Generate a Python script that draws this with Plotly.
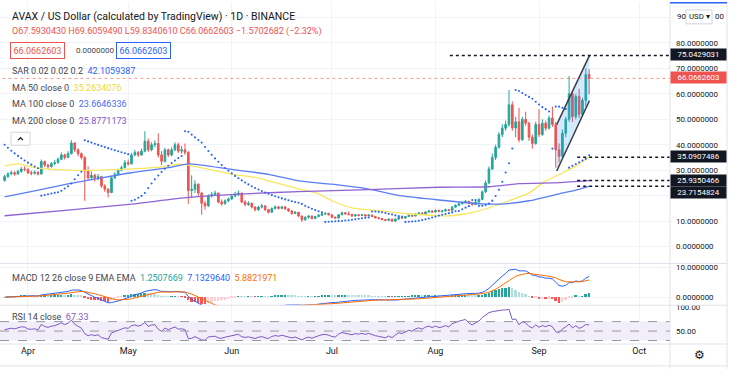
import numpy as np
import pandas as pd
import plotly.graph_objects as go

FONT = "Roboto, Liberation Sans, sans-serif"
W, H = 734, 369
PLOT_R = 670          # right edge of the plot area (px)
MB = 25               # bottom margin (time axis)
PH = H - MB           # plot height in px

# ---------------- data ----------------
start_date = "2021-03-25"
first_open = 26.0
close = [27.5, 28.6, 29.0, 28.5, 29.5, 30.5, 30.3,
         29.0, 28.8, 29.2, 28.5, 33.4, 32.0, 31.4, 32.6, 33.0, 34.3,
         36.0, 35.0, 36.5, 40.7, 38.0, 36.5, 35.0, 29.7, 27.0, 28.0,
         26.8, 27.5, 23.8, 22.5, 21.2, 27.0, 28.4, 30.0, 31.0, 33.0,
         32.5, 36.0, 37.0, 36.0, 37.5, 41.4, 38.0, 40.0, 40.5, 36.0,
         33.5, 38.0, 36.0, 38.0, 40.0, 37.5, 38.0, 37.0, 22.0, 22.5,
         24.5, 21.0, 17.0, 16.0, 20.0, 20.5, 21.0, 17.5, 16.8, 18.0,
         18.7, 19.8, 20.5, 21.0, 17.5, 16.5, 17.0, 15.5, 14.5, 15.5,
         16.0, 14.5, 13.5, 15.0, 15.6, 15.0, 15.6, 14.8, 14.0, 13.0,
         13.5, 12.0, 10.5, 11.5, 12.0, 11.0, 11.8, 12.3, 12.8, 13.0,
         12.5, 11.5, 11.2, 12.5, 13.3, 12.8, 12.6, 12.0, 12.5, 12.2,
         12.5, 12.0, 12.4, 11.8, 11.3, 11.0, 10.6, 10.3, 10.8, 10.0,
         10.8, 11.5, 11.2, 11.8, 12.3, 12.0, 12.8, 13.2, 12.8, 13.6,
         14.0, 13.6, 14.2, 13.8, 14.0, 14.5, 14.2, 15.5, 16.2, 16.8,
         17.3, 17.8, 17.0, 16.5, 17.5, 18.5, 21.5, 25.0, 30.5, 35.0,
         39.0, 44.0, 46.5, 48.0, 55.7, 46.6, 49.0, 42.0, 50.0, 48.5,
         43.0, 40.5, 48.0, 44.0, 48.5, 46.5, 50.5, 48.0, 38.0, 35.5,
         44.5, 50.0, 60.0, 51.0, 59.0, 52.0, 57.5, 67.593043, 66.0662603]
high = [28.2, 29.2, 29.8, 29.6, 30.2, 31.3, 31.5,
        30.8, 29.8, 29.9, 29.6, 34.2, 33.8, 32.5, 33.2, 34.0, 35.0,
        37.0, 36.5, 37.5, 41.8, 41.0, 38.6, 37.0, 35.5, 31.5, 29.5,
        28.6, 28.5, 27.8, 24.5, 23.0, 27.8, 29.2, 30.6, 31.8, 34.0,
        34.2, 36.8, 38.0, 37.6, 38.5, 45.3, 42.5, 41.0, 41.8, 44.5,
        37.5, 38.8, 38.5, 39.0, 41.0, 40.8, 39.5, 40.5, 37.5, 28.0,
        26.0, 24.8, 21.5, 18.0, 20.5, 21.5, 22.0, 21.2, 18.5, 18.6,
        19.2, 20.5, 21.5, 22.0, 21.2, 18.2, 17.8, 17.2, 15.9, 16.0,
        16.8, 16.2, 14.8, 15.4, 16.2, 16.0, 16.0, 15.8, 15.0, 14.2,
        13.9, 13.6, 12.2, 11.9, 12.4, 12.2, 12.1, 12.8, 13.2, 13.6,
        13.3, 12.6, 11.8, 12.8, 13.7, 13.6, 13.8, 12.9, 12.8, 12.7,
        12.8, 12.6, 12.7, 12.5, 12.0, 11.5, 11.2, 10.8, 11.0, 10.9,
        11.0, 11.8, 11.7, 12.0, 12.6, 12.5, 13.1, 13.6, 13.4, 13.9,
        14.4, 14.2, 14.6, 14.5, 14.4, 14.9, 14.8, 15.9, 16.6, 17.3,
        17.8, 18.3, 18.0, 17.4, 17.9, 19.0, 22.0, 26.0, 31.5, 36.5,
        40.0, 45.0, 48.0, 49.5, 61.5, 57.0, 51.0, 54.5, 51.0, 53.0,
        49.0, 44.0, 49.0, 54.0, 50.0, 49.5, 51.5, 55.0, 49.0, 40.5,
        46.0, 51.0, 67.0, 61.0, 60.0, 62.0, 58.5, 70.0, 69.605949]
low = [25.5, 27.0, 28.0, 27.8, 28.2, 29.0, 29.6,
       28.5, 28.0, 28.3, 27.9, 28.2, 31.2, 30.5, 31.0, 32.0, 32.6,
       34.0, 34.2, 34.8, 36.2, 37.2, 35.5, 34.2, 18.0, 25.8, 26.0,
       25.5, 26.0, 23.0, 21.5, 19.3, 21.0, 26.5, 28.0, 29.6, 30.8,
       31.8, 32.2, 35.5, 35.2, 35.6, 37.0, 37.2, 37.5, 39.0, 35.0,
       32.0, 33.0, 35.2, 35.5, 37.5, 36.8, 36.5, 36.0, 16.8, 19.0,
       21.0, 20.0, 12.5, 14.5, 15.5, 19.2, 20.0, 17.0, 16.0, 16.5,
       17.5, 18.3, 19.5, 19.8, 17.0, 15.8, 16.0, 15.0, 13.8, 14.0,
       15.0, 14.0, 13.0, 13.2, 14.6, 14.6, 14.7, 14.4, 13.6, 12.5,
       12.8, 11.6, 9.7, 10.2, 11.0, 10.7, 10.8, 11.5, 12.0, 12.4,
       12.2, 11.2, 10.9, 11.0, 12.3, 12.5, 12.2, 11.7, 11.8, 11.9,
       12.0, 11.8, 11.9, 11.5, 11.0, 10.7, 10.3, 10.0, 10.1, 9.7,
       9.8, 10.6, 10.9, 11.0, 11.6, 11.7, 11.9, 12.5, 12.4, 12.6,
       13.3, 13.2, 13.4, 13.5, 13.3, 13.8, 13.9, 14.0, 15.2, 15.9,
       16.5, 17.0, 16.6, 16.0, 16.3, 17.2, 18.2, 21.0, 24.5, 30.0,
       34.0, 38.5, 43.0, 45.5, 47.0, 45.5, 43.0, 41.0, 41.5, 47.5,
       41.5, 38.5, 40.0, 43.0, 43.5, 45.5, 46.0, 47.0, 31.0, 33.0,
       35.0, 43.0, 49.0, 49.0, 50.0, 50.5, 51.0, 55.0, 59.834061]

ma50_dates = ["2021-03-25", "2021-03-29", "2021-04-03", "2021-04-13", "2021-04-23", "2021-05-02",
              "2021-05-11", "2021-05-16", "2021-05-19", "2021-06-01", "2021-06-09", "2021-06-12",
              "2021-06-21", "2021-06-27", "2021-07-01", "2021-07-07", "2021-07-15", "2021-07-24",
              "2021-08-02", "2021-08-06", "2021-08-14", "2021-08-23", "2021-08-29", "2021-09-03",
              "2021-09-08", "2021-09-12", "2021-09-16"]
ma50_vals = [31.6, 32.5, 31.0, 30.0, 30.0, 30.5, 31.3, 32.4, 32.0, 28.5, 27.0, 25.8, 22.7, 20.7,
             18.0, 15.2, 14.1, 12.9, 12.1, 12.1, 14.0, 18.0, 21.1, 25.8, 28.9, 31.6, 35.2634076]
ma100_dates = ["2021-03-25", "2021-04-03", "2021-04-13", "2021-04-23", "2021-05-02", "2021-05-13",
               "2021-05-19", "2021-06-01", "2021-06-12", "2021-06-21", "2021-07-01", "2021-07-12",
               "2021-07-22", "2021-08-02", "2021-08-15", "2021-08-22", "2021-08-29", "2021-09-07",
               "2021-09-12", "2021-09-16"]
ma100_vals = [19.5, 21.9, 24.6, 27.0, 29.0, 31.0, 32.5, 30.3, 28.4, 25.8, 24.5, 22.6, 19.9, 18.3,
              16.8, 16.8, 18.0, 20.7, 22.2, 23.6646336]
ma200_dates = ["2021-03-25", "2021-04-13", "2021-05-02", "2021-05-19", "2021-06-03", "2021-06-21",
               "2021-07-12", "2021-08-02", "2021-08-17", "2021-08-26", "2021-09-07", "2021-09-16"]
ma200_vals = [12.1, 14.3, 16.7, 19.3, 20.6, 21.6, 22.4, 23.3, 23.5, 24.7, 25.1, 25.8771173]

# parabolic SAR settings + state carried in from before the window
sar_af0, sar_step, sar_max = 0.02, 0.02, 0.2
sar_start, sar_ep_start, sar_af_start = 40.0, 20.0, 0.06
rsi_seed_gain, rsi_seed_loss = 0.9, 0.8

# drawings
level_vals = [75.0429031, 35.0907486, 25.9350466, 23.7154824]
level_from = ["2021-08-05 07:00", "2021-09-12 10:00", "2021-09-12 10:00", "2021-09-12 10:00"]
chan_x = ["2021-09-06 07:00", "2021-09-16 02:00"]
chan_upper = [47.9, 75.0429031]
chan_lower = [29.7, 57.3]

# ---------------- derived series ----------------
dates = pd.date_range(start_date, periods=len(close), freq="D")
opens = [first_open] + close[:-1]
cl = pd.Series(close)

ema12 = cl.ewm(span=12, adjust=False).mean()
ema26 = cl.ewm(span=26, adjust=False).mean()
macd = ema12 - ema26
signal = macd.ewm(span=9, adjust=False).mean()
hist = macd - signal
hcol = []
for i, h in enumerate(hist):
    prev = hist.iloc[i - 1] if i > 0 else 0
    if h >= 0:
        hcol.append("#26a69a" if h >= prev else "#b2dfdb")
    else:
        hcol.append("#ff5252" if h <= prev else "#ffcdd2")

ag, al = rsi_seed_gain, rsi_seed_loss
rsi = [100 - 100 / (1 + ag / al)]
for i in range(1, len(close)):
    d = close[i] - close[i - 1]
    ag = (ag * 13 + max(d, 0)) / 14
    al = (al * 13 + max(-d, 0)) / 14
    rsi.append(100 - 100 / (1 + ag / al))

def psar(hi, lo):
    n = len(hi)
    up = False
    s, ep, af = sar_start, sar_ep_start, sar_af_start
    out = [s]
    for i in range(1, n):
        s = s + af * (ep - s)
        if up:
            s = min(s, lo[i - 1], lo[max(i - 2, 0)])
            if lo[i] < s:
                up, s, ep, af = False, ep, lo[i], sar_af0
            elif hi[i] > ep:
                ep, af = hi[i], min(af + sar_step, sar_max)
        else:
            s = max(s, hi[i - 1], hi[max(i - 2, 0)])
            if hi[i] > s:
                up, s, ep, af = True, ep, hi[i], sar_af0
            elif lo[i] < ep:
                ep, af = lo[i], min(af + sar_step, sar_max)
        out.append(s)
    return out

sar = psar(high, low)

# ---------------- figure ----------------
fig = go.Figure()
fig.add_trace(go.Candlestick(x=dates, open=opens, high=high, low=low, close=close,
                             increasing=dict(line=dict(color="#26a69a", width=1), fillcolor="#26a69a"),
                             decreasing=dict(line=dict(color="#ef5350", width=1), fillcolor="#ef5350"),
                             whiskerwidth=0, xaxis="x", yaxis="y", showlegend=False, hoverinfo="skip"))
# channel
fig.add_trace(go.Scatter(x=[chan_x[0], chan_x[1], chan_x[1], chan_x[0], chan_x[0]],
                         y=[chan_upper[0], chan_upper[1], chan_lower[1], chan_lower[0], chan_upper[0]],
                         fill="toself", fillcolor="rgba(33,150,243,0.2)", mode="none",
                         xaxis="x", yaxis="y", showlegend=False))
for yy in (chan_upper, chan_lower):
    fig.add_trace(go.Scatter(x=chan_x, y=yy, mode="lines", line=dict(color="#3a3d48", width=1.5),
                             xaxis="x", yaxis="y", showlegend=False))
# MAs
for xs, ys, col in ((ma50_dates, ma50_vals, "#f7e760"), (ma100_dates, ma100_vals, "#5b7ef5"),
                    (ma200_dates, ma200_vals, "#8f63d2")):
    fig.add_trace(go.Scatter(x=xs, y=ys, mode="lines", line=dict(color=col, width=1.3, shape="spline", smoothing=0.6),
                             xaxis="x", yaxis="y", showlegend=False))
# SAR
fig.add_trace(go.Scatter(x=dates, y=sar, mode="markers", marker=dict(color="#2962ff", size=2.1),
                         xaxis="x", yaxis="y", showlegend=False))
# level lines
for v, f in zip(level_vals, level_from):
    fig.add_trace(go.Scatter(x=[f, "2021-10-12"], y=[v, v], mode="lines",
                             line=dict(color="#131722", width=1.5, dash="dot"),
                             xaxis="x", yaxis="y", showlegend=False))
# current price line
fig.add_trace(go.Scatter(x=["2021-03-01", "2021-10-12"], y=[close[-1], close[-1]], mode="lines",
                         line=dict(color="rgba(239,83,80,0.6)", width=1, dash="dot"),
                         xaxis="x", yaxis="y", showlegend=False))

# MACD
fig.add_trace(go.Bar(x=dates, y=hist, marker=dict(color=hcol, line=dict(width=0)),
                     width=0.55 * 86400000, xaxis="x2", yaxis="y2", showlegend=False))
fig.add_trace(go.Scatter(x=dates, y=macd, mode="lines", line=dict(color="#2962ff", width=1),
                         xaxis="x2", yaxis="y2", showlegend=False))
fig.add_trace(go.Scatter(x=dates, y=signal, mode="lines", line=dict(color="#ff6d00", width=1),
                         xaxis="x2", yaxis="y2", showlegend=False))
# RSI
fig.add_trace(go.Scatter(x=dates, y=rsi, mode="lines", line=dict(color="#7e57c2", width=1),
                         xaxis="x3", yaxis="y3", showlegend=False))

def py(y):
    return (PH - y) / PH

def px(x):
    return x / PLOT_R

xrange = ["2021-03-23 15:00", "2021-10-10 05:00"]
grid = "#f0f3fa"
xcommon = dict(type="date", range=xrange, dtick="M1", tick0="2021-04-01", showgrid=True,
               gridcolor=grid, zeroline=False, showline=False, ticks="", domain=[0, 1])
main_dom = [py(263), 1]
macd_dom = [py(305), py(263)]
rsi_dom = [0, py(305)]
AX_FS = 7.9
tickfont = dict(family=FONT, size=AX_FS, color="#131722")

fig.update_layout(
    width=W, height=H, margin=dict(l=0, r=W - PLOT_R, t=0, b=MB),
    paper_bgcolor="white", plot_bgcolor="white", bargap=0,
    xaxis=dict(**xcommon, anchor="y", showticklabels=False, rangeslider=dict(visible=False)),
    xaxis2=dict(**xcommon, anchor="y2", matches="x", showticklabels=False),
    xaxis3=dict(**xcommon, anchor="y3", matches="x", showticklabels=True, tickformat="%b",
                tickfont=dict(family=FONT, size=9, color="#131722")),
    yaxis=dict(domain=main_dom, side="right", anchor="x", range=[-6.64, 96.09],
               tickvals=[0, 10, 20, 30, 40, 50, 60, 70, 80, 90],
               ticktext=["0.0000000", "10.0000000", "", "30.0000000", "40.0000000", "50.0000000",
                         "60.0000000", "70.0000000", "80.0000000", ""],
               showgrid=True, gridcolor=grid, zeroline=False, ticks="", tickfont=tickfont,
               ticklabelstandoff=5),
    yaxis2=dict(domain=macd_dom, side="right", anchor="x2", range=[-2.67, 11.33],
                tickvals=[0, 10], ticktext=["0.0000000", "10.0000000"], showgrid=True, gridcolor=grid,
                zeroline=False, ticks="", tickfont=tickfont, ticklabelstandoff=5),
    yaxis3=dict(domain=rsi_dom, side="right", anchor="x3", range=[22.6, 104.7],
                tickvals=[50, 100], ticktext=["50.00", "100.00"], showgrid=False,
                zeroline=False, ticks="", tickfont=tickfont, ticklabelstandoff=5),
)

shapes = []
# RSI band
shapes.append(dict(type="rect", xref="x3 domain", yref="y3", x0=0, x1=1, y0=30, y1=70,
                   fillcolor="rgba(126,87,194,0.1)", line=dict(width=0), layer="below"))
for v in (70, 50, 30):
    shapes.append(dict(type="line", xref="x3 domain", yref="y3", x0=0, x1=1, y0=v, y1=v,
                       line=dict(color="#9598a1", width=1, dash="dash")))
sep = "#e0e3eb"
for yy in (263, 305, 344, 366):
    shapes.append(dict(type="line", xref="paper", yref="paper", x0=0, x1=px(727), y0=py(yy), y1=py(yy),
                       line=dict(color=sep, width=1)))
for xx in (670, 727):
    shapes.append(dict(type="line", xref="paper", yref="paper", x0=px(xx), x1=px(xx), y0=py(0), y1=py(369),
                       line=dict(color=sep, width=1)))
shapes.append(dict(type="line", xref="paper", yref="paper", x0=px(670), x1=px(727), y0=py(0.8), y1=py(0.8),
                   line=dict(color="#2962ff", width=1.6)))
# collapse button
shapes.append(dict(type="rect", xref="paper", yref="paper", x0=px(11), x1=px(30), y0=py(131), y1=py(144),
                   line=dict(color="#d1d4dc", width=1), fillcolor="white"))
shapes.append(dict(type="path", xref="paper", yref="paper",
                   path=f"M {px(18)} {py(139)} L {px(20.5)} {py(136.5)} L {px(23)} {py(139)}",
                   line=dict(color="#131722", width=1.2)))
# USD button
shapes.append(dict(type="rect", xref="paper", yref="paper", x0=px(686), x1=px(712), y0=py(8), y1=py(22),
                   line=dict(color="#d1d4dc", width=1), fillcolor="white"))
fig.update_layout(shapes=shapes)

anns = []
def ann(x, y, text, size=9, color="#131722", xanchor="left", **kw):
    anns.append(dict(xref="paper", yref="paper", x=px(x), y=py(y), text=text, showarrow=False,
                     xanchor=xanchor, yanchor="middle", font=dict(family=FONT, size=size, color=color), **kw))

ann(10, 15, "AVAX / US Dollar (calculated by TradingView) · 1D · BINANCE", size=10.5)
ann(10, 29.5, "O67.5930430 H69.6059490 L59.8340610 C66.0662603 −1.5702682 (−2.32%)", size=9, color="#ef5350")
ann(10, 48.5, "66.0662603", size=9, color="#ef5350", bordercolor="#ef5350", borderwidth=1, borderpad=2.5)
ann(74, 48.5, "0.0000000", size=8, color="#434651")
ann(116, 48.5, "66.0662603", size=9, color="#2962ff", bordercolor="#2962ff", borderwidth=1, borderpad=2.5)
ann(10, 69, "SAR 0.02 0.02 0.2&nbsp;&nbsp;<span style='color:#2962ff'>42.1059387</span>", size=9, color="#434651")
ann(10, 86, "MA 50 close 0&nbsp;&nbsp;<span style='color:#f0d93a'>35.2634076</span>", size=9, color="#434651")
ann(10, 103, "MA 100 close 0&nbsp;&nbsp;<span style='color:#4a6cf7'>23.6646336</span>", size=9, color="#434651")
ann(10, 119.5, "MA 200 close 0&nbsp;&nbsp;<span style='color:#7e57c2'>25.8771173</span>", size=9, color="#434651")
ann(10, 277.5, "MACD 12 26 close 9 EMA EMA&nbsp;&nbsp;<span style='color:#26a69a'>1.2507669</span>&nbsp;&nbsp;"
    "<span style='color:#2962ff'>7.1329640</span>&nbsp;&nbsp;<span style='color:#ff6d00'>5.8821971</span>",
    size=9, color="#434651")
ann(10, 317, "RSI 14 close&nbsp;&nbsp;<span style='color:#7e57c2'>67.33</span>", size=9, color="#434651")
# price axis labels
for yv, txt, bg in ((52.5, "75.0429031", "#131722"), (75.8, "66.0662603", "#ef5350"),
                    (155, "35.0907486", "#131722"), (180, "25.9350466", "#131722"),
                    (192, "23.7154824", "#131722")):
    ann(670, yv, txt, size=AX_FS, color="white", bgcolor=bg, borderpad=0, width=55, height=11, align="center")
ann(675, 15, "90", size=AX_FS)
ann(713, 15, "00", size=AX_FS)
ann(699, 15, "USD ▾", size=7.8, color="#131722", xanchor="center")
ann(700, 355, "⚙", size=12, color="#131722", xanchor="center")
fig.update_layout(annotations=anns)

fig.write_html("out.html", config={"displayModeBar": False},
               post_script="document.body.style.margin='0';document.body.style.overflow='hidden';")
